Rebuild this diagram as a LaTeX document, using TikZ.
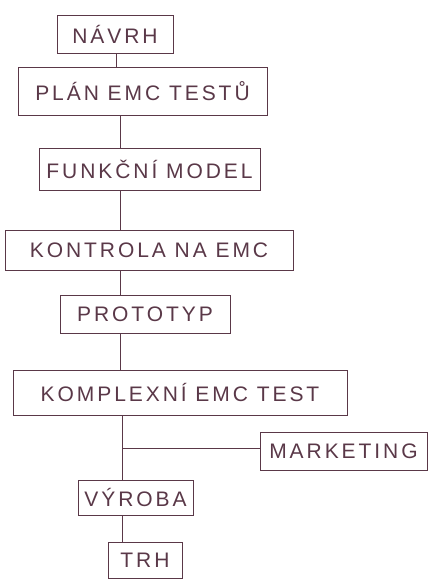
\documentclass[tikz,border=0pt]{standalone}
\usepackage{fontspec}
\setmainfont[LetterSpace=14]{Liberation Sans}
\definecolor{pencil}{HTML}{5A3848}
\begin{document}
\begin{tikzpicture}[x=1pt,y=-1pt,
  box/.style={draw=pencil, line width=1pt, text=pencil, inner sep=0pt,
    font=\fontsize{21}{24}\selectfont},
  link/.style={draw=pencil, line width=1pt}]
\useasboundingbox[fill=white] (0,0) rectangle (429,584);
\node[box, minimum width=116pt, minimum height=38pt] (navrh) at (115,34) {NÁVRH};
\node[box, minimum width=249pt, minimum height=48pt] (plan) at (142.5,91) {PLÁN EMC TESTŮ};
\node[box, minimum width=221pt, minimum height=42pt] (funk) at (149.5,169) {FUNKČNÍ MODEL};
\node[box, minimum width=288pt, minimum height=40pt] (kontr) at (149,250) {KONTROLA NA EMC\hspace{16pt}};
\node[box, minimum width=170pt, minimum height=38pt] (proto) at (145,314) {PROTOTYP};
\node[box, minimum width=334pt, minimum height=45pt] (kompl) at (180,392.5) {KOMPLEXNÍ EMC TEST};
\node[box, minimum width=167pt, minimum height=38pt] (mark) at (343.5,451) {MARKETING};
\node[box, minimum width=115pt, minimum height=35pt] (vyr) at (135.5,497.5) {VÝROBA};
\node[box, minimum width=74pt, minimum height=36pt] (trh) at (145,560) {TRH};
\coordinate (s1) at (116,0);
\coordinate (s2) at (120,0);
\coordinate (s3) at (122,0);
\coordinate (br) at (122,448);
\draw[link] (navrh.south -| s1) -- (plan.north -| s1);
\draw[link] (plan.south -| s2) -- (funk.north -| s2);
\draw[link] (funk.south -| s2) -- (kontr.north -| s2);
\draw[link] (kontr.south -| s2) -- (proto.north -| s2);
\draw[link] (proto.south -| s2) -- (kompl.north -| s2);
\draw[link] (kompl.south -| s3) -- (vyr.north -| s3);
\draw[link] (br) -- (mark.west |- br);
\draw[link] (vyr.south -| s3) -- (trh.north -| s3);
\end{tikzpicture}
\end{document}
